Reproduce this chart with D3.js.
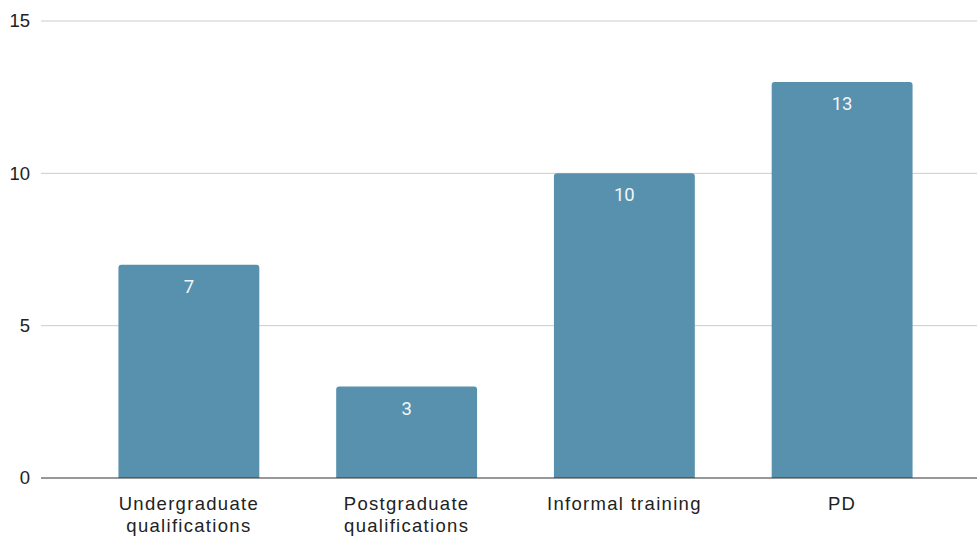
<!DOCTYPE html>
<html>
<head>
<meta charset="utf-8">
<script src="https://cdn.jsdelivr.net/npm/d3@7"></script>
<style>
  body { margin: 0; background: #fff; }
  svg { display: block; }
</style>
</head>
<body>
<div id="chart"></div>
<script>
const categories = [['Undergraduate', 'qualifications'], ['Postgraduate', 'qualifications'], ['Informal training'], ['PD']];
const values = [7, 3, 10, 13];
const yTicks = [0, 5, 10, 15];

const width = 977, height = 537;
const plot = { left: 41, right: 977, top: 21, bottom: 478 };

const svg = d3.select('#chart').append('svg')
    .attr('width', width)
    .attr('height', height);

const keys = categories.map(c => c.join(' '));

const x = d3.scaleBand()
    .domain(keys)
    .range([80, 951])
    .paddingInner(0.353)
    .paddingOuter(0.1765);

const y = d3.scaleLinear()
    .domain([0, 15])
    .range([plot.bottom, plot.top]);

// gridlines
svg.append('g')
    .selectAll('line')
    .data(yTicks.filter(t => t > 0))
    .join('line')
    .attr('x1', plot.left)
    .attr('x2', plot.right)
    .attr('y1', d => y(d))
    .attr('y2', d => y(d))
    .attr('stroke', '#cccccc')
    .attr('stroke-width', 1);

// y labels
svg.append('g')
    .selectAll('text')
    .data(yTicks)
    .join('text')
    .attr('x', 30)
    .attr('y', d => y(d))
    .attr('dy', '0.35em')
    .attr('text-anchor', 'end')
    .attr('font-family', 'Liberation Sans, Arial, sans-serif')
    .attr('font-size', 18.5)
    .attr('fill', '#222')
    .text(d => d);

// bars, rounded top corners
const r = 3;
function barPath(x0, w, yTop, yBase) {
    return `M${x0},${yBase} V${yTop + r} Q${x0},${yTop} ${x0 + r},${yTop} H${x0 + w - r} Q${x0 + w},${yTop} ${x0 + w},${yTop + r} V${yBase} Z`;
}

svg.append('g')
    .selectAll('path')
    .data(values)
    .join('path')
    .attr('d', (d, i) => barPath(x(keys[i]), x.bandwidth(), y(d), y(0)))
    .attr('fill', '#5891ad');

// value labels
svg.append('g')
    .selectAll('text')
    .data(values)
    .join('text')
    .attr('x', (d, i) => x(keys[i]) + x.bandwidth() / 2)
    .attr('y', d => y(d) + 28)
    .attr('text-anchor', 'middle')
    .attr('font-family', 'Roboto, sans-serif')
    .attr('font-size', 18.5)
    .attr('fill', '#f2f6f8')
    .text(d => d);

// baseline
svg.append('line')
    .attr('x1', plot.left)
    .attr('x2', plot.right)
    .attr('y1', y(0))
    .attr('y2', y(0))
    .attr('stroke', '#333')
    .attr('stroke-width', 1.2);

// category labels
const cat = svg.append('g')
    .selectAll('text')
    .data(categories)
    .join('text')
    .attr('x', (d, i) => x(keys[i]) + x.bandwidth() / 2)
    .attr('y', 510)
    .attr('text-anchor', 'middle')
    .attr('font-family', 'Liberation Sans, Arial, sans-serif')
    .attr('font-size', 18.5)
    .attr('letter-spacing', 1.3)
    .attr('fill', '#222');

cat.selectAll('tspan')
    .data(d => d)
    .join('tspan')
    .attr('x', function () { return d3.select(this.parentNode).attr('x'); })
    .attr('dy', (d, i) => i === 0 ? 0 : 21.5)
    .text(d => d);
</script>
</body>
</html>
